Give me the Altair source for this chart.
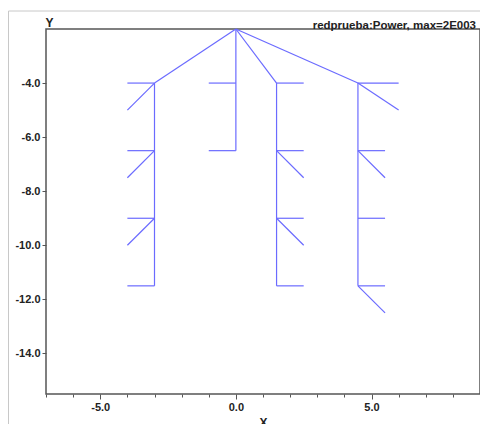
import altair as alt
import pandas as pd

# Segments of the network (start -> end)
x1 = [0, 0, 0, 0,
      -3, -3, -3, -3, -3, -3, -3, -3,
      0, 0,
      1.5, 1.5, 1.5, 1.5, 1.5, 1.5, 1.5,
      4.5, 4.5, 4.5, 4.5, 4.5, 4.5, 4.5, 4.5]
y1 = [-2, -2, -2, -2,
      -4, -4, -4, -6.5, -6.5, -9, -9, -11.5,
      -4, -6.5,
      -4, -4, -6.5, -6.5, -9, -9, -11.5,
      -4, -4, -4, -6.5, -6.5, -9, -11.5, -11.5]
x2 = [-3, 0, 1.5, 4.5,
      -3, -4, -4, -4, -4, -4, -4, -4,
      -1, -1,
      1.5, 2.5, 2.5, 2.5, 2.5, 2.5, 2.5,
      4.5, 6, 6, 5.5, 5.5, 5.5, 5.5, 5.5]
y2 = [-4, -6.5, -4, -4,
      -11.5, -4, -5, -6.5, -7.5, -9, -10, -11.5,
      -4, -6.5,
      -11.5, -4, -6.5, -7.5, -9, -10, -11.5,
      -11.5, -4, -5, -6.5, -7.5, -9, -11.5, -12.5]

x_ticks = list(range(-7, 10))
y_ticks = [-4, -6, -8, -10, -12, -14]
x_domain = [-7, 9]
y_domain = [-15.5, -2]
title_text = "redprueba:Power, max=2E003"

df = pd.DataFrame({"x1": x1, "y1": y1, "x2": x2, "y2": y2})

FONT = "Liberation Sans"
W, H = 434, 365
LINE = "#6b6bff"
BORDER = "#c8c8c8"

fmt = "(datum.value < 0 ? '-' : '') + format(abs(datum.value), '.1f')"

segments = alt.Chart(df).mark_rule(color=LINE, strokeWidth=1.2).encode(
    x=alt.X(
        "x1:Q",
        scale=alt.Scale(domain=x_domain, nice=False, zero=False),
        axis=alt.Axis(
            values=x_ticks,
            title="X",
            grid=False,
            labelExpr="datum.value % 5 === 0 ? " + fmt + " : ''",
            tickSize={"condition": {"test": "datum.value % 5 === 0", "value": 5}, "value": 3},
            titlePadding=5,
        ),
    ),
    y=alt.Y(
        "y1:Q",
        scale=alt.Scale(domain=y_domain, nice=False, zero=False),
        axis=alt.Axis(
            values=y_ticks,
            title="Y",
            grid=False,
            titleAngle=0,
            titleX=-1,
            titleY=-3,
            titleAlign="left",
            titleBaseline="alphabetic",
            labelExpr=fmt,
            tickSize=4,
            labelPadding=2,
        ),
    ),
    x2="x2:Q",
    y2="y2:Q",
)

one = pd.DataFrame({"a": [0]})
border_left = alt.Chart(one).mark_rule(color=BORDER, strokeWidth=1).encode(
    x=alt.value(-37.5), y=alt.value(-18), y2=alt.value(H + 60)
)
border_top = alt.Chart(one).mark_rule(color=BORDER, strokeWidth=1).encode(
    x=alt.value(-37.5), x2=alt.value(W + 20), y=alt.value(-18)
)

chart = (
    alt.layer(border_left, border_top, segments)
    .properties(
        width=W,
        height=H,
        background="white",
        autosize=alt.AutoSizeParams(type="none"),
        padding={"left": 38, "top": 21, "right": 0, "bottom": 30},
        title=alt.Title(
            title_text,
            anchor="end",
            frame="group",
            font=FONT,
            fontSize=11.5,
            fontWeight="bold",
            color="#222",
            baseline="alphabetic",
            offset=-30,
            dx=-4,
        ),
    )
    .configure_view(stroke="#555", strokeWidth=1.5)
    .configure_axis(
        domain=False,
        grid=False,
        labelFont=FONT,
        labelFontSize=11,
        labelFontWeight="bold",
        labelColor="#222",
        tickColor="#555",
        tickWidth=1,
        titleFont=FONT,
        titleFontSize=12,
        titleFontWeight="bold",
        titleColor="#222",
    )
)

chart.save("out.html", embed_options={"renderer": "svg", "actions": False})
